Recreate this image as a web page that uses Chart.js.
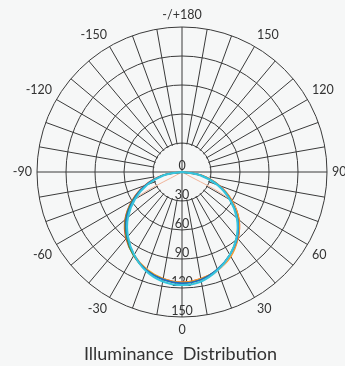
<!DOCTYPE html>
<html>
<head>
<meta charset="utf-8">
<script src="https://cdn.jsdelivr.net/npm/chart.js@4.4.1/dist/chart.umd.min.js"></script>
<style>
  html, body { margin: 0; padding: 0; background: #f6f7f7; overflow: hidden; }
  #wrap { width: 345px; height: 366px; position: relative; margin-left: 8px; }
</style>
</head>
<body>
<div id="wrap"><canvas id="chart"></canvas></div>
<script>
// Angle labels, clockwise from the bottom (every 10 deg, text every 30 deg)
const angleLabels = [
  '0', '', '', '-30', '', '', '-60', '', '', '-90', '', '',
  '-120', '', '', '-150', '', '', '-/+180', '', '', '150', '', '',
  '120', '', '', '90', '', '', '60', '', '', '30', '', ''
];

// Radial tick labels (drawn just inside each ring)
const radialTicks = [0, 30, 60, 90, 120, 150];

// Series values, one per angle label (same order as angleLabels)
const seriesRed = [
  114, 112, 108, 100, 90, 77, 60, 41, 21, 0, 0, 0,
  0, 0, 0, 0, 0, 0, 0, 0, 0, 0, 0, 0,
  0, 0, 0, 0, 21, 41, 60, 77, 90, 100, 108, 112
];
const seriesOrange = [
  114, 112, 107, 99, 89, 76, 59, 40, 20, 0, 0, 0,
  0, 0, 0, 0, 0, 0, 0, 0, 0, 0, 0, 0,
  0, 0, 0, 0, 21, 41, 60, 77, 90, 101, 108, 112
];
const seriesGreen = [
  115, 113, 108, 100, 89, 76, 59, 40, 20, 0, 0, 0,
  0, 0, 0, 0, 0, 0, 0, 0, 0, 0, 0, 0,
  0, 0, 0, 0, 20, 40, 58, 75, 88, 99, 107, 113
];
const seriesBlue = [
  115, 113, 108, 99, 88, 75, 58, 40, 20, 0, 0, 0,
  0, 0, 0, 0, 0, 0, 0, 0, 0, 0, 0, 0,
  0, 0, 0, 0, 20, 40, 58, 75, 89, 99, 107, 113
];
const seriesCyan = [
  117, 115, 109, 99, 87, 73, 56, 38, 19, 0, 0, 0,
  0, 0, 0, 0, 0, 0, 0, 0, 0, 0, 0, 0,
  0, 0, 0, 0, 19, 39, 57, 74, 88, 99, 108, 115
];
// faint series that jumps straight from the centre to +/-60
const seriesFaint = [
  115, 113, 108, 99, 88, 74, 57, 0, 0, 0, 0, 0,
  0, 0, 0, 0, 0, 0, 0, 0, 0, 0, 0, 0,
  0, 0, 0, 0, 0, 0, 58, 75, 89, 100, 109, 114
];

const BG = '#f6f7f7';
const GRID = '#3a3a3a';
const TEXT = '#333333';
const FONT = 'Lato, "Noto Sans", sans-serif';

const line = (label, data, color, width) => ({
  label,
  data,
  borderColor: color,
  backgroundColor: 'transparent',
  borderWidth: width,
  pointRadius: 0,
  tension: 0.3,
  fill: false
});

// Hollow centre + radial tick labels, painted over the grid before the curves
const hubPlugin = {
  id: 'hub',
  beforeDatasetsDraw(chart) {
    const r = chart.scales.r;
    const ctx = chart.ctx;
    const x = r.xCenter;
    const y = r.yCenter;
    const hole = r.getDistanceFromCenterForValue(30);

    ctx.save();
    ctx.fillStyle = BG;
    ctx.beginPath();
    ctx.arc(x, y, hole - 1, 0, Math.PI * 2);
    ctx.fill();

    ctx.strokeStyle = GRID;
    ctx.lineWidth = 1;
    ctx.beginPath();
    ctx.moveTo(x - hole, y);
    ctx.lineTo(x + hole, y);
    ctx.moveTo(x, y - hole);
    ctx.lineTo(x, y + hole);
    ctx.stroke();

    ctx.fillStyle = TEXT;
    ctx.font = '12.5px ' + FONT;
    ctx.textAlign = 'center';
    ctx.textBaseline = 'bottom';
    radialTicks.forEach(v => {
      ctx.fillText(String(v), x, y + r.getDistanceFromCenterForValue(v));
    });
    ctx.restore();
  }
};

// first dataset is drawn on top, so cyan goes first
new Chart(document.getElementById('chart'), {
  type: 'radar',
  data: {
    labels: angleLabels,
    datasets: [
      line('Cyan', seriesCyan, '#36c4dc', 2),
      line('Blue', seriesBlue, '#2266c8', 1.5),
      line('Green', seriesGreen, '#35a040', 1.5),
      line('Faint', seriesFaint, '#f0b49a', 1),
      line('Orange', seriesOrange, '#f39a2c', 1.5),
      line('Red', seriesRed, '#e2402a', 1.5)
    ]
  },
  options: {
    responsive: true,
    maintainAspectRatio: false,
    animation: false,
    layout: { padding: { top: 7, bottom: 0, left: 0, right: 0 } },
    plugins: {
      legend: { display: false },
      tooltip: { enabled: false },
      title: {
        display: true,
        position: 'bottom',
        text: 'Illuminance  Distribution',
        color: TEXT,
        font: { family: FONT, size: 18, weight: 'normal' },
        padding: { top: 5, bottom: 1 }
      }
    },
    scales: {
      r: {
        min: 0,
        max: 150,
        startAngle: 180,
        ticks: { display: false, stepSize: 30 },
        grid: { color: GRID, lineWidth: 1, circular: true },
        angleLines: { color: GRID, lineWidth: 1 },
        pointLabels: {
          color: TEXT,
          padding: 5,
          font: { family: FONT, size: 12.5 }
        }
      }
    }
  },
  plugins: [hubPlugin]
});
</script>
</body>
</html>
